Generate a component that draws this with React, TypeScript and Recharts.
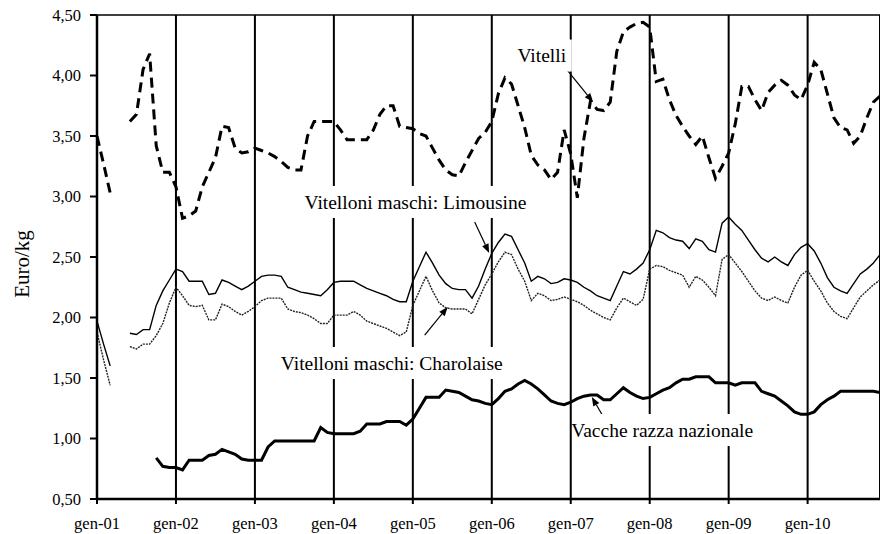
import React from 'react';
import {
  LineChart,
  Line,
  XAxis,
  YAxis,
  CartesianGrid,
  ReferenceLine,
  ReferenceDot,
} from 'recharts';

// tick labels on the x axis (one every 12 months)
const yearLabels = ['gen-01', 'gen-02', 'gen-03', 'gen-04', 'gen-05', 'gen-06', 'gen-07', 'gen-08', 'gen-09', 'gen-10'];
const yTicks = [0.5, 1, 1.5, 2, 2.5, 3, 3.5, 4, 4.5];

// monthly prices, gen-01 .. dic-10 (Euro/kg)
const vitelli = [
  3.50, 3.27, 3.03, null, null, 3.62, 3.68, 4.05, 4.18, 3.42, 3.20, 3.20,
  3.08, 2.82, 2.84, 2.88, 3.08, 3.20, 3.32, 3.58, 3.57, 3.40, 3.36, 3.37,
  3.40, 3.38, 3.36, 3.33, 3.29, 3.24, 3.22, 3.22, 3.50, 3.62, 3.62, 3.62,
  3.62, 3.55, 3.47, 3.47, 3.47, 3.47, 3.55, 3.68, 3.75, 3.75, 3.58, 3.57,
  3.56, 3.52, 3.50, 3.40, 3.30, 3.22, 3.18, 3.17, 3.28, 3.38, 3.48, 3.53,
  3.62, 3.85, 3.98, 3.93, 3.75, 3.57, 3.34, 3.26, 3.22, 3.14, 3.20, 3.55,
  3.35, 2.99, 3.48, 3.79, 3.72, 3.71, 3.78, 4.20, 4.36, 4.40, 4.43, 4.44,
  4.40, 3.95, 3.97, 3.80, 3.67, 3.58, 3.50, 3.43, 3.50, 3.32, 3.15, 3.25,
  3.36, 3.60, 3.91, 3.91, 3.80, 3.71, 3.86, 3.92, 3.96, 3.92, 3.84, 3.80,
  3.92, 4.11, 4.05, 3.85, 3.65, 3.57, 3.55, 3.44, 3.50, 3.65, 3.78, 3.83,
];

const limousine = [
  1.97, 1.78, 1.60, null, null, 1.87, 1.86, 1.90, 1.90, 2.10, 2.22, 2.31,
  2.40, 2.38, 2.30, 2.30, 2.30, 2.19, 2.20, 2.31, 2.29, 2.26, 2.23, 2.26,
  2.30, 2.34, 2.35, 2.35, 2.34, 2.25, 2.23, 2.21, 2.20, 2.19, 2.18, 2.23,
  2.29, 2.30, 2.30, 2.30, 2.27, 2.24, 2.22, 2.20, 2.18, 2.15, 2.13, 2.13,
  2.30, 2.42, 2.54, 2.45, 2.35, 2.28, 2.24, 2.23, 2.23, 2.16, 2.26, 2.40,
  2.53, 2.62, 2.69, 2.67, 2.56, 2.45, 2.30, 2.34, 2.32, 2.28, 2.29, 2.32,
  2.31, 2.29, 2.25, 2.22, 2.18, 2.16, 2.14, 2.26, 2.38, 2.36, 2.40, 2.45,
  2.56, 2.72, 2.70, 2.66, 2.64, 2.63, 2.57, 2.65, 2.63, 2.56, 2.54, 2.78,
  2.83, 2.77, 2.72, 2.64, 2.56, 2.49, 2.46, 2.50, 2.46, 2.43, 2.52, 2.58,
  2.61, 2.55, 2.45, 2.33, 2.25, 2.22, 2.20, 2.28, 2.36, 2.40, 2.45, 2.52,
];

const charolaise = [
  1.88, 1.65, 1.44, null, null, 1.76, 1.74, 1.78, 1.78, 1.85, 1.95, 2.12,
  2.25, 2.18, 2.10, 2.09, 2.10, 1.98, 1.98, 2.11, 2.09, 2.05, 2.02, 2.05,
  2.09, 2.14, 2.16, 2.16, 2.16, 2.07, 2.05, 2.04, 2.02, 1.99, 1.95, 1.95,
  2.02, 2.02, 2.02, 2.05, 2.02, 1.97, 1.95, 1.93, 1.91, 1.88, 1.85, 1.88,
  2.10, 2.22, 2.34, 2.22, 2.12, 2.08, 2.07, 2.07, 2.07, 2.03, 2.15, 2.27,
  2.36, 2.46, 2.54, 2.52, 2.40, 2.30, 2.14, 2.20, 2.18, 2.14, 2.15, 2.17,
  2.15, 2.13, 2.10, 2.06, 2.03, 2.00, 1.98, 2.08, 2.16, 2.13, 2.10, 2.15,
  2.40, 2.43, 2.42, 2.39, 2.37, 2.35, 2.25, 2.34, 2.31, 2.25, 2.18, 2.48,
  2.52, 2.45, 2.38, 2.30, 2.22, 2.16, 2.14, 2.17, 2.14, 2.12, 2.25, 2.35,
  2.39, 2.30, 2.22, 2.12, 2.05, 2.01, 1.99, 2.08, 2.17, 2.22, 2.27, 2.31,
];

const vacche = [
  null, null, null, null, null, null, null, null, null, 0.84, 0.77, 0.76,
  0.76, 0.74, 0.82, 0.82, 0.82, 0.86, 0.87, 0.91, 0.89, 0.87, 0.83, 0.82,
  0.82, 0.82, 0.93, 0.98, 0.98, 0.98, 0.98, 0.98, 0.98, 0.98, 1.09, 1.05,
  1.04, 1.04, 1.04, 1.04, 1.06, 1.12, 1.12, 1.12, 1.14, 1.14, 1.14, 1.11,
  1.16, 1.25, 1.34, 1.34, 1.34, 1.40, 1.39, 1.38, 1.35, 1.32, 1.31, 1.29,
  1.28, 1.33, 1.39, 1.41, 1.45, 1.48, 1.45, 1.41, 1.36, 1.31, 1.29, 1.28,
  1.30, 1.33, 1.35, 1.36, 1.36, 1.32, 1.32, 1.37, 1.42, 1.38, 1.35, 1.33,
  1.34, 1.37, 1.40, 1.42, 1.46, 1.49, 1.49, 1.51, 1.51, 1.51, 1.46, 1.46,
  1.46, 1.44, 1.46, 1.46, 1.46, 1.39, 1.37, 1.35, 1.31, 1.27, 1.22, 1.20,
  1.20, 1.22, 1.28, 1.32, 1.35, 1.39, 1.39, 1.39, 1.39, 1.39, 1.39, 1.38,
];

// text callouts: label centre and arrow (month index, value)
const notes = [
  { text: 'Vitelli', at: [67.6, 4.165], w: 60, from: [71.1, 4.07], to: [75.4, 3.78] },
  { text: 'Vitelloni maschi: Limousine', at: [48.4, 2.955], w: 236, from: [57.4, 2.79], to: [59.6, 2.533] },
  { text: 'Vitelloni maschi: Charolaise', at: [44.8, 1.624], w: 236, from: [49.8, 1.855], to: [53.3, 2.087] },
  { text: 'Vacche razza nazionale', at: [85.9, 1.07], w: 178, from: [77.5, 1.128], to: [75.2, 1.343] },
];

const data = vitelli.map((v, i) => ({
  m: i,
  vitelli: v,
  limousine: limousine[i],
  charolaise: charolaise[i],
  vacche: vacche[i],
}));

const FONT = '"Liberation Serif", "Times New Roman", serif';

const Arrow = (props: any) => {
  const { x1, y1, x2, y2 } = props;
  if (x1 == null || x2 == null) return null;
  const ang = Math.atan2(y2 - y1, x2 - x1);
  const len = 9;
  const half = 3.5;
  const bx = x2 - len * Math.cos(ang);
  const by = y2 - len * Math.sin(ang);
  const p1 = `${bx + half * Math.sin(ang)},${by - half * Math.cos(ang)}`;
  const p2 = `${bx - half * Math.sin(ang)},${by + half * Math.cos(ang)}`;
  return (
    <g>
      <line x1={x1} y1={y1} x2={bx} y2={by} stroke="#000" strokeWidth={1.2} />
      <polygon points={`${x2},${y2} ${p1} ${p2}`} fill="#000" />
    </g>
  );
};

const noteShape = (text: string, w: number) => (props: any) => {
  const { cx, cy } = props;
  if (cx == null) return null;
  return (
    <g>
      <rect x={cx - w / 2} y={cy - 16} width={w} height={32} fill="#fff" />
      <text x={cx} y={cy} dy="0.35em" textAnchor="middle" fontFamily={FONT} fontSize={19.5} fill="#000">
        {text}
      </text>
    </g>
  );
};

const YLabel = (props: any) => {
  const vb = props.viewBox || {};
  const cy = (vb.y ?? 15) + (vb.height ?? 484) / 2 + 7;
  return (
    <text
      x={22}
      y={cy}
      transform={`rotate(-90, 22, ${cy})`}
      dy="0.35em"
      textAnchor="middle"
      fontFamily={FONT}
      fontSize={21}
      fill="#000"
    >
      Euro/kg
    </text>
  );
};

export default function App() {
  return (
    <div style={{ position: 'absolute', left: 0, top: 0, width: 880, height: 534, background: '#fff' }}>
      <LineChart width={880} height={534} data={data} margin={{ top: 15, right: 0, bottom: 0, left: 0 }}>
        <CartesianGrid vertical horizontal={false} stroke="#000" strokeWidth={2} />
        <XAxis
          dataKey="m"
          type="number"
          domain={[0, 119]}
          ticks={yearLabels.map((_, i) => i * 12)}
          tickFormatter={(v: number) => yearLabels[v / 12] ?? ''}
          height={35}
          tickSize={5}
          tickMargin={13}
          axisLine={{ stroke: '#000', strokeWidth: 2.5 }}
          tickLine={{ stroke: '#000', strokeWidth: 2 }}
          tick={{ fill: '#000', fontFamily: FONT, fontSize: 16.5 }}
          interval={0}
        />
        <YAxis
          type="number"
          domain={[0.5, 4.5]}
          ticks={yTicks}
          tickFormatter={(v: number) => v.toFixed(2).replace('.', ',')}
          width={97}
          tickSize={7}
          tickMargin={9}
          axisLine={{ stroke: '#000', strokeWidth: 2.5 }}
          tickLine={{ stroke: '#000', strokeWidth: 2 }}
          tick={{ fill: '#000', fontFamily: FONT, fontSize: 16.5 }}
          interval={0}
          label={<YLabel />}
        />
        <ReferenceLine y={4.5} stroke="#000" strokeWidth={1.5} />
        {notes.map((n) => (
          <ReferenceDot
            key={n.text}
            x={n.at[0]}
            y={n.at[1]}
            r={0}
            shape={noteShape(n.text, n.w)}
          />
        ))}
        <Line
          dataKey="vitelli"
          stroke="#000"
          strokeWidth={3}
          strokeDasharray="10 6"
          dot={false}
          isAnimationActive={false}
          type="linear"
        />
        <Line
          dataKey="limousine"
          stroke="#000"
          strokeWidth={1.4}
          dot={false}
          isAnimationActive={false}
          type="linear"
        />
        <Line
          dataKey="charolaise"
          stroke="#222"
          strokeWidth={1.4}
          strokeDasharray="2 1"
          dot={false}
          isAnimationActive={false}
          type="linear"
        />
        <Line
          dataKey="vacche"
          stroke="#000"
          strokeWidth={3}
          dot={false}
          isAnimationActive={false}
          type="linear"
        />
        {notes.map((n) => (
          <ReferenceLine
            key={n.text + '-arrow'}
            segment={[
              { x: n.from[0], y: n.from[1] },
              { x: n.to[0], y: n.to[1] },
            ]}
            shape={Arrow}
          />
        ))}
      </LineChart>
    </div>
  );
}
